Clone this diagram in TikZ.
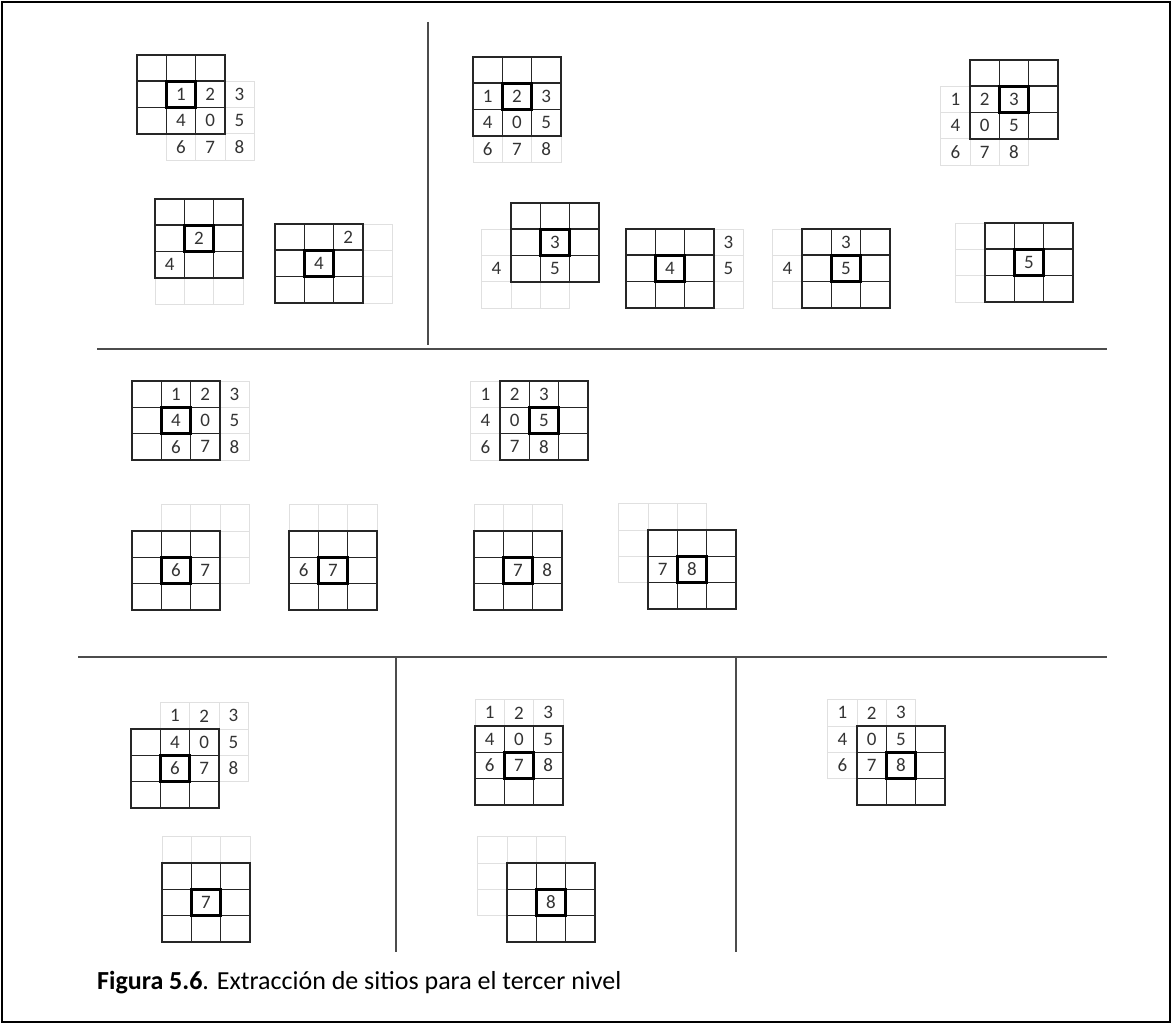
\documentclass[tikz,border=0pt]{standalone}
\usepackage{fontspec}
\setmainfont{Carlito}
\usetikzlibrary{positioning}

\newcommand{\cellw}{29.3}
\newcommand{\cellh}{26.3}
\newcommand{\digitfont}{\fontsize{19}{21}\selectfont}

% #1 name, #2/#3 top left of the black grid, #4/#5 shift of the site grid (cells),
% #6 list col/row/text of the site grid
\newcommand{\sitegrid}[6]{%
  \begin{scope}[shift={(#2,#3)}]
    \foreach \ix in {0,1,2} \foreach \iy in {0,1,2}
      \node[graycell] (#1g\ix\iy) at ({(\ix+(#4)+0.5)*\cellw},{(\iy+(#5)+0.5)*\cellh}) {};
    \foreach \ix in {0,1,2} \foreach \iy in {0,1,2}
      \node[blackcell] (#1b\ix\iy) at ({(\ix+0.5)*\cellw},{(\iy+0.5)*\cellh}) {};
    \node[boldcell] (#1c) at ({1.5*\cellw},{1.5*\cellh}) {};
    \foreach \ix/\iy/\t in {#6}
      \node[digit] at (#1g\ix\iy) {\t};
  \end{scope}}

\begin{document}
\begin{tikzpicture}[x=1pt, y=-1pt,
    graycell/.style={draw=black!12, line width=0.8pt, minimum width=\cellw pt,
      minimum height=\cellh pt, inner sep=0pt},
    blackcell/.style={graycell, draw=black!85, line width=1.6pt},
    boldcell/.style={graycell, draw=black, line width=3.4pt},
    digit/.style={text=black!80, font=\digitfont, inner sep=0pt},
    sepline/.style={draw=black!70, line width=2.5pt}]
  \useasboundingbox (0,0) rectangle (1172,1024);
  \draw[line width=2pt] (2,2) rectangle (1170,1022);

  % separators
  \draw[sepline] (428,22) -- (428,345);
  \draw[sepline] (97,349) -- (1107,349);
  \draw[sepline] (78,657) -- (1107,657);
  \draw[sepline] (396,657) -- (396,952);
  \draw[sepline] (736,657) -- (736,952);

  % top left
  \sitegrid{A}{137}{55}{1}{1}{0/0/1,1/0/2,2/0/3,0/1/4,1/1/0,2/1/5,0/2/6,1/2/7,2/2/8}
  \sitegrid{B}{155}{199}{0}{1}{1/0/2,0/1/4}
  \sitegrid{C}{275}{224}{1}{0}{1/0/2,0/1/4}

  % top right
  \sitegrid{D}{473}{57}{0}{1}{0/0/1,1/0/2,2/0/3,0/1/4,1/1/0,2/1/5,0/2/6,1/2/7,2/2/8}
  \sitegrid{E}{970}{60}{-1}{1}{0/0/1,1/0/2,2/0/3,0/1/4,1/1/0,2/1/5,0/2/6,1/2/7,2/2/8}
  \sitegrid{F}{511}{203}{-1}{1}{2/0/3,0/1/4,2/1/5}
  \sitegrid{G}{626}{229}{1}{0}{2/0/3,0/1/4,2/1/5}
  \sitegrid{H}{802}{229}{-1}{0}{2/0/3,0/1/4,2/1/5}
  \sitegrid{I}{985}{223}{-1}{0}{2/1/5}

  % middle
  \sitegrid{J}{132}{381}{1}{0}{0/0/1,1/0/2,2/0/3,0/1/4,1/1/0,2/1/5,0/2/6,1/2/7,2/2/8}
  \sitegrid{K}{500}{381}{-1}{0}{0/0/1,1/0/2,2/0/3,0/1/4,1/1/0,2/1/5,0/2/6,1/2/7,2/2/8}
  \sitegrid{L}{132}{531}{1}{-1}{0/2/6,1/2/7}
  \sitegrid{M}{289}{531}{0}{-1}{0/2/6,1/2/7}
  \sitegrid{N}{474}{531}{0}{-1}{1/2/7,2/2/8}
  \sitegrid{O}{648}{530}{-1}{-1}{1/2/7,2/2/8}

  % bottom
  \sitegrid{P}{131}{729}{1}{-1}{0/0/1,1/0/2,2/0/3,0/1/4,1/1/0,2/1/5,0/2/6,1/2/7,2/2/8}
  \sitegrid{Q}{162}{863}{0}{-1}{1/2/7}
  \sitegrid{S}{475}{726}{0}{-1}{0/0/1,1/0/2,2/0/3,0/1/4,1/1/0,2/1/5,0/2/6,1/2/7,2/2/8}
  \sitegrid{R}{507}{863}{-1}{-1}{2/2/8}
  \sitegrid{T}{857}{726}{-1}{-1}{0/0/1,1/0/2,2/0/3,0/1/4,1/1/0,2/1/5,0/2/6,1/2/7,2/2/8}

  \node[anchor=west, font=\fontsize{26}{30}\selectfont, inner sep=0pt] (caption) at (97,983)
    {\textbf{Figura 5.6}. Extracción de sitios para el tercer nivel};
\end{tikzpicture}
\end{document}
